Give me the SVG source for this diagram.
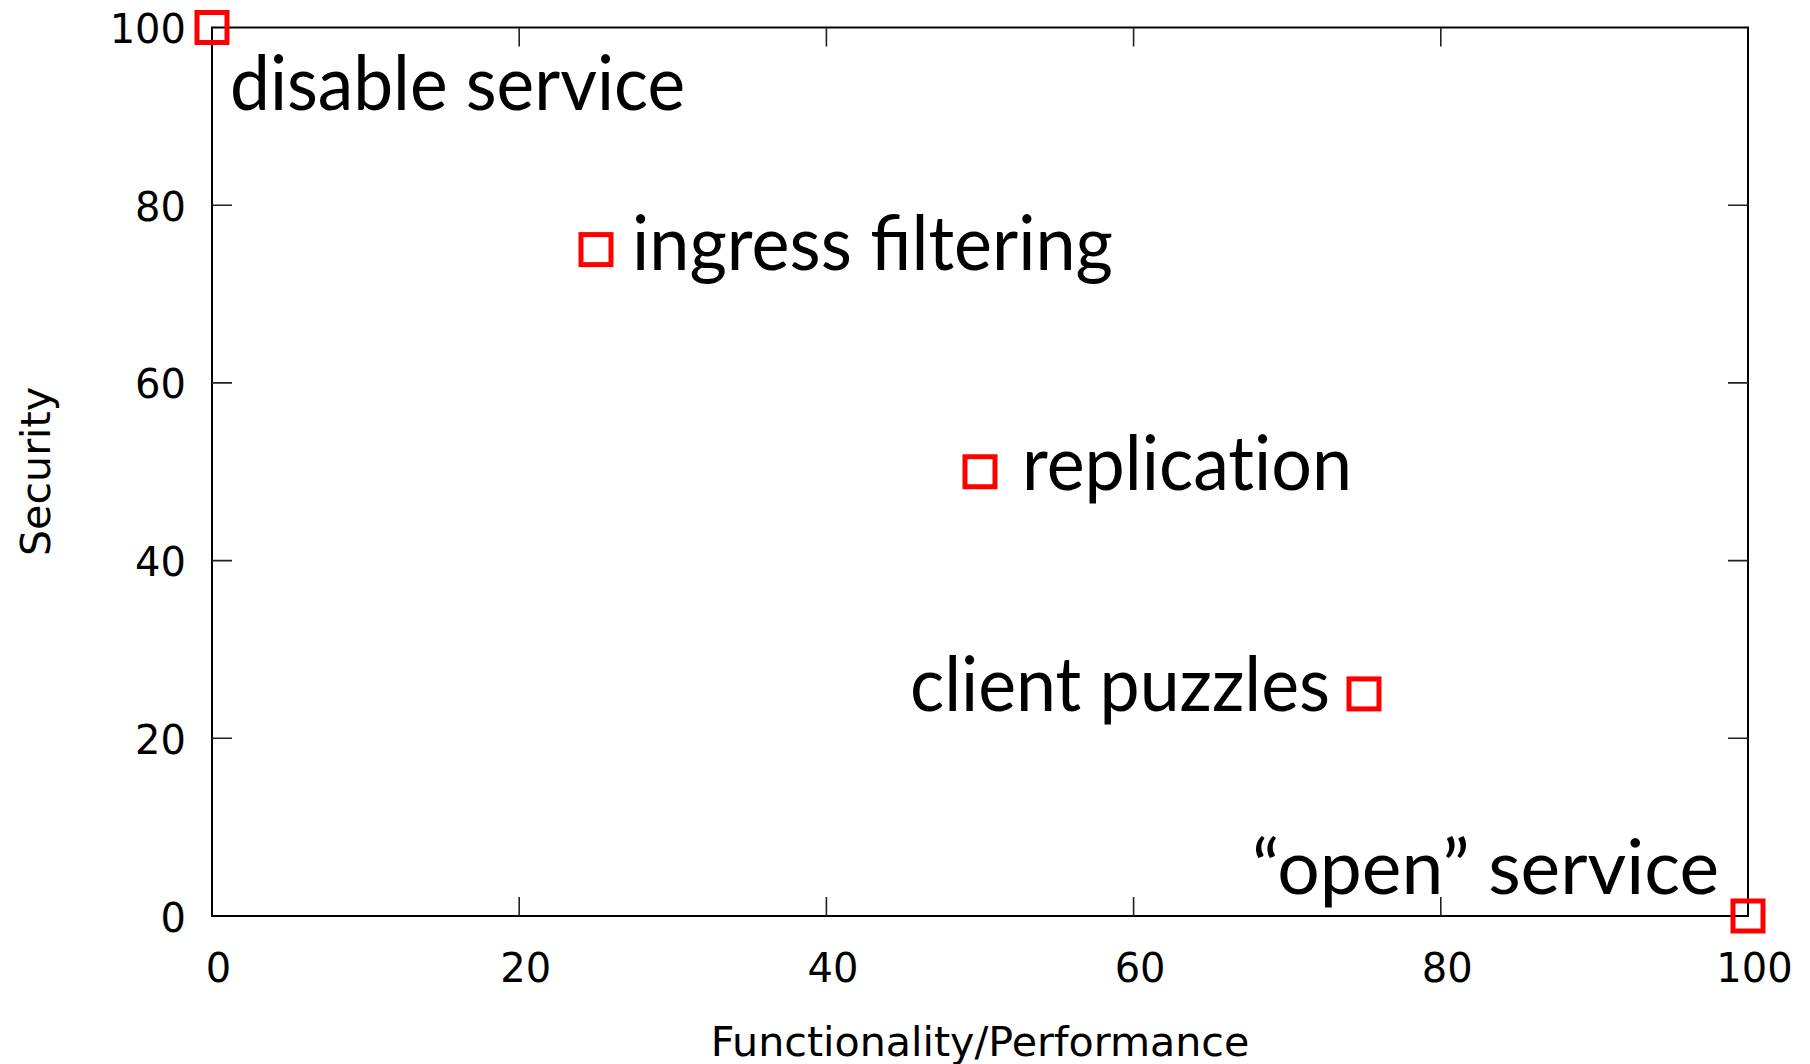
<svg xmlns="http://www.w3.org/2000/svg" width="1810" height="1064" viewBox="0 0 1810 1064">
<style>
.frame{fill:none;stroke:#000;stroke-width:2}
.tick{stroke:#222;stroke-width:1.6}
.tl{font-family:"DejaVu Sans",sans-serif;font-size:40px;fill:#000}
.ttl{font-size:41.2px}
.yl{text-anchor:end}
.xl{text-anchor:middle}
.pt{fill:none;stroke:#ff0000;stroke-width:5}
.lbl{font-family:Lato,"Open Sans",sans-serif;font-size:75px;fill:#000}
.nolig{font-variant-ligatures:none;font-feature-settings:"liga" 0,"dlig" 0,"clig" 0}
</style>
<defs>
<rect id="sq" x="-15" y="-15" width="30" height="30" class="pt"/>
</defs>
<rect width="1810" height="1064" fill="#fff"/>
<g id="axes">
<rect class="frame" x="212" y="27.5" width="1536" height="888.5"/>
<g id="ticks">
<path class="tick" d="M212 738.3h20M212 560.6h20M212 382.9h20M212 205.2h20M1748 738.3h-20M1748 560.6h-20M1748 382.9h-20M1748 205.2h-20M519.2 916v-19M826.4 916v-19M1133.6 916v-19M1440.8 916v-19M519.2 27.5v19M826.4 27.5v19M1133.6 27.5v19M1440.8 27.5v19"/>
</g>
<g id="ytick-labels" class="tl yl">
<text x="186" y="931.5">0</text>
<text x="186" y="753.8">20</text>
<text x="186" y="576.1">40</text>
<text x="186" y="398.4">60</text>
<text x="186" y="220.7">80</text>
<text x="186" y="43">100</text>
</g>
<g id="xtick-labels" class="tl xl">
<text x="218.5" y="982">0</text>
<text x="525.7" y="982">20</text>
<text x="832.9" y="982">40</text>
<text x="1140.1" y="982">60</text>
<text x="1447.3" y="982">80</text>
<text x="1754.5" y="982">100</text>
</g>
<text id="x-title" class="tl ttl xl" x="980" y="1056">Functionality/Performance</text>
<text id="y-title" class="tl ttl xl" transform="translate(49.5 471.5) rotate(-90)">Security</text>
</g>
<g id="node-disable">
<use href="#sq" x="212" y="27.5"/>
<text class="lbl" x="230" y="110" textLength="455" lengthAdjust="spacingAndGlyphs">disable service</text>
</g>
<g id="node-ingress">
<use href="#sq" x="596" y="249.6"/>
<text class="lbl" x="632" y="270" textLength="481" lengthAdjust="spacingAndGlyphs">ingress filtering</text>
</g>
<g id="node-replication">
<use href="#sq" x="980" y="471.75"/>
<text class="lbl nolig" x="1022" y="490" textLength="330" lengthAdjust="spacingAndGlyphs">replication</text>
</g>
<g id="node-puzzles">
<use href="#sq" x="1364" y="693.9"/>
<text class="lbl" x="910" y="711" textLength="420" lengthAdjust="spacingAndGlyphs">client puzzles</text>
</g>
<g id="node-open">
<use href="#sq" x="1748" y="916"/>
<text class="lbl" x="1252" y="894" textLength="467" lengthAdjust="spacingAndGlyphs">“open” service</text>
</g>
</svg>
